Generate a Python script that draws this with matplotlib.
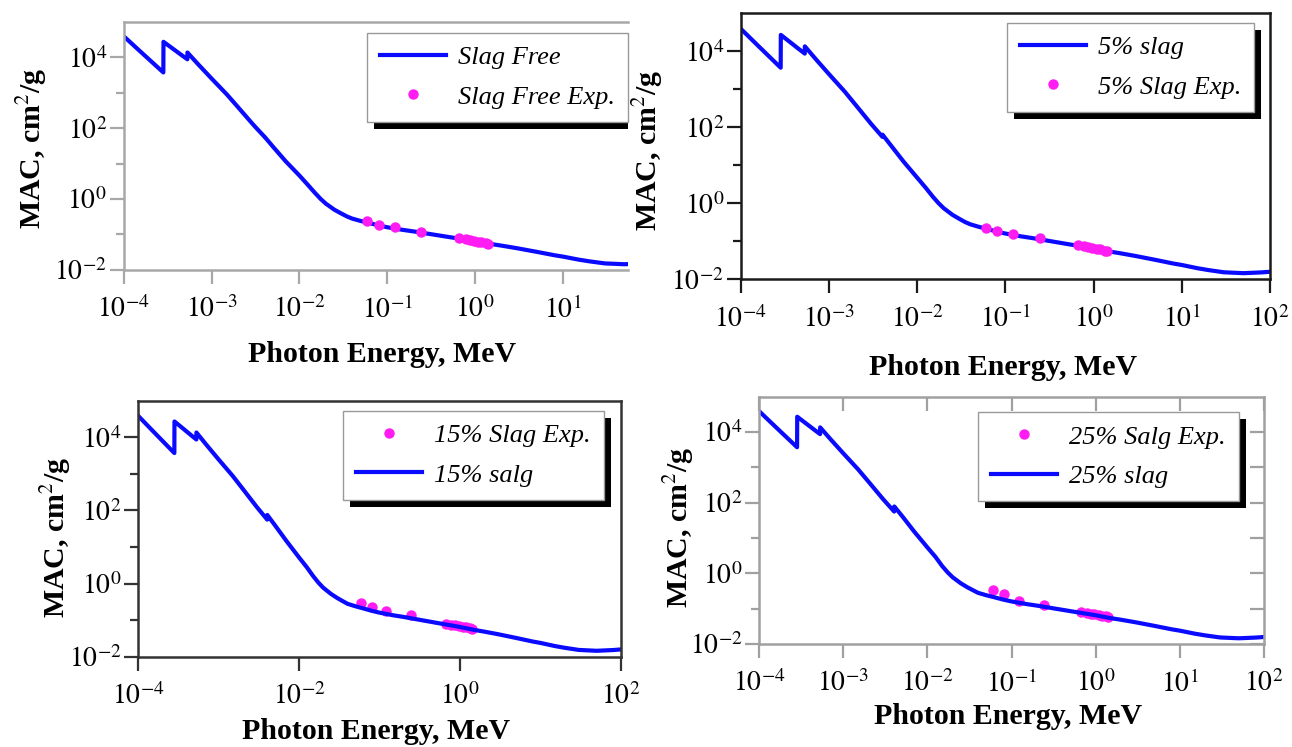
import matplotlib
matplotlib.use('Agg')
import matplotlib.pyplot as plt
from matplotlib.patches import Rectangle
from matplotlib.transforms import IdentityTransform
from matplotlib.ticker import NullFormatter

plt.rcParams['font.family'] = ['Liberation Serif', 'DejaVu Serif']
plt.rcParams['mathtext.fontset'] = 'stix'

# photon energy (MeV) and mass attenuation coefficient (cm2/g)
energy = [1.0e-4, 1.5e-4, 2.0e-4, 2.83e-4, 2.84e-4, 3.5e-4, 4.5e-4, 5.31e-4, 5.32e-4, 7.0e-4,
          1.0e-3, 1.5e-3, 2.0e-3, 3.0e-3, 4.03e-3, 4.04e-3, 5.0e-3, 7.0e-3, 1.0e-2, 1.25e-2,
          1.5e-2, 1.75e-2, 2.0e-2, 2.5e-2, 3.0e-2, 3.5e-2, 4.0e-2, 5.0e-2, 6.0e-2, 8.0e-2,
          0.1, 0.15, 0.2, 0.3, 0.5, 0.8, 1.0, 1.5, 2.0, 3.0,
          5.0, 8.0, 10.0, 15.0, 20.0, 30.0, 50.0, 80.0, 100.0]
mac_free = [3.9e4, 1.55e4, 8.1e3, 3.7e3, 2.7e4, 1.85e4, 1.17e4, 8.7e3, 1.35e4, 6.4e3,
            2.5e3, 880, 390, 123, 56, 56, 30, 11.5, 4.6, 2.5,
            1.5, 1.0, 0.74, 0.5, 0.39, 0.32, 0.28, 0.24, 0.215, 0.18,
            0.16, 0.135, 0.122, 0.104, 0.085, 0.071, 0.065, 0.054, 0.0485, 0.041,
            0.0325, 0.026, 0.0238, 0.0196, 0.0175, 0.0153, 0.0145, 0.0152, 0.0158]
mac_5 = [3.9e4, 1.55e4, 8.1e3, 3.7e3, 2.7e4, 1.85e4, 1.17e4, 8.7e3, 1.35e4, 6.4e3,
         2.5e3, 880, 390, 123, 56, 64, 34, 12.5, 4.7, 2.55,
         1.5, 1.0, 0.74, 0.5, 0.39, 0.32, 0.28, 0.24, 0.215, 0.18,
         0.16, 0.135, 0.122, 0.104, 0.085, 0.071, 0.065, 0.054, 0.0485, 0.041,
         0.0325, 0.026, 0.0238, 0.0196, 0.0175, 0.0153, 0.0145, 0.0152, 0.0158]
mac_15 = [3.9e4, 1.55e4, 8.1e3, 3.7e3, 2.7e4, 1.85e4, 1.17e4, 8.7e3, 1.35e4, 6.4e3,
          2.5e3, 880, 390, 123, 56, 75, 40, 14.5, 5.2, 2.8,
          1.6, 1.05, 0.77, 0.52, 0.4, 0.33, 0.28, 0.24, 0.215, 0.18,
          0.16, 0.135, 0.122, 0.104, 0.085, 0.071, 0.065, 0.054, 0.0485, 0.041,
          0.0325, 0.026, 0.0238, 0.0196, 0.0175, 0.0153, 0.0145, 0.0152, 0.0158]
mac_25 = [3.9e4, 1.55e4, 8.1e3, 3.7e3, 2.7e4, 1.85e4, 1.17e4, 8.7e3, 1.35e4, 6.4e3,
          2.5e3, 880, 390, 123, 56, 78, 42, 15.0, 5.4, 2.9,
          1.6, 1.05, 0.77, 0.52, 0.4, 0.33, 0.28, 0.24, 0.215, 0.18,
          0.16, 0.135, 0.122, 0.104, 0.085, 0.071, 0.065, 0.054, 0.0485, 0.041,
          0.0325, 0.026, 0.0238, 0.0196, 0.0175, 0.0153, 0.0145, 0.0152, 0.0158]

exp_energy = [0.0595, 0.081, 0.122, 0.245, 0.662, 0.779, 0.867, 0.964, 1.086, 1.173, 1.332, 1.408]
exp_free = [0.24, 0.19, 0.16, 0.12, 0.078, 0.073, 0.070, 0.067, 0.063, 0.060, 0.056, 0.054]
exp_5 = [0.22, 0.19, 0.155, 0.12, 0.079, 0.074, 0.071, 0.068, 0.064, 0.061, 0.057, 0.055]
exp_15 = [0.30, 0.23, 0.175, 0.14, 0.078, 0.075, 0.072, 0.069, 0.066, 0.063, 0.060, 0.057]
exp_25 = [0.34, 0.26, 0.17, 0.13, 0.078, 0.075, 0.072, 0.070, 0.067, 0.064, 0.060, 0.057]

line_labels = ['Slag Free', '5% slag', '15% salg', '25% slag']
exp_labels = ['Slag Free Exp.', '5% Slag Exp.', '15% Slag Exp.', '25% Salg Exp.']

xticks_all = [1e-4, 1e-3, 1e-2, 1e-1, 1e0, 1e1, 1e2]
xlabels_all = ['$10^{-4}$', '$10^{-3}$', '$10^{-2}$', '$10^{-1}$', '$10^{0}$', '$10^{1}$', '$10^{2}$']
xticks_even = [1e-4, 1e-2, 1e0, 1e2]
xlabels_even = ['$10^{-4}$', '$10^{-2}$', '$10^{0}$', '$10^{2}$']
yticks = [1e-2, 1e0, 1e2, 1e4]
ylabels = ['$10^{-2}$', '$10^{0}$', '$10^{2}$', '$10^{4}$']
yminor = [1e-1, 1e1, 1e3]

fig = plt.figure(figsize=(12.92, 7.47), dpi=100)

panels = [
    dict(rect=[0.0957, 0.6386, 0.3904, 0.3324], mac=mac_free, exp=exp_free, dots_first=False,
         xt=xticks_all[:-1], xtl=xlabels_all[:-1], xmax=55, edge='#a8a8a8',
         anchor=(1.0, 0.956), ylab=(-0.182, 0.491), xlab=(0.512, -0.342)),
    dict(rect=[0.5734, 0.6261, 0.4096, 0.3561], mac=mac_5, exp=exp_5, dots_first=False,
         xt=xticks_all, xtl=xlabels_all, xmax=100, edge='#1a1a1a',
         anchor=(0.970, 0.965), ylab=(-0.175, 0.486), xlab=(0.495, -0.330)),
    dict(rect=[0.1068, 0.1209, 0.3738, 0.3427], mac=mac_15, exp=exp_15, dots_first=True,
         xt=xticks_even, xtl=xlabels_even, xmax=100, edge='#333333',
         anchor=(0.964, 0.961), ylab=(-0.170, 0.468), xlab=(0.493, -0.292)),
    dict(rect=[0.5875, 0.1379, 0.3909, 0.3311], mac=mac_25, exp=exp_25, dots_first=True,
         xt=xticks_all, xtl=xlabels_all, xmax=100, edge='#a0a0a0',
         anchor=(0.950, 0.938), ylab=(-0.158, 0.473), xlab=(0.493, -0.295)),
]

axes = []
legends = []
for i, p in enumerate(panels):
    ax = fig.add_axes(p['rect'])
    ax.set_xscale('log')
    ax.set_yscale('log')
    if p['dots_first']:
        ax.plot(exp_energy, p['exp'], 'o', color='#ff1cf2', ms=7.5, mec='none', label=exp_labels[i])
        ax.plot(energy, p['mac'], color='#0a0aff', lw=3, label=line_labels[i])
    else:
        ax.plot(energy, p['mac'], color='#0a0aff', lw=3, label=line_labels[i])
        ax.plot(exp_energy, p['exp'], 'o', color='#ff1cf2', ms=7.5, mec='none', label=exp_labels[i])

    ax.set_xticks(p['xt'])
    ax.set_xticklabels(p['xtl'])
    ax.set_xticks([], minor=True)
    ax.set_yticks(yticks)
    ax.set_yticklabels(ylabels)
    ax.set_yticks(yminor, minor=True)
    ax.yaxis.set_minor_formatter(NullFormatter())
    ax.set_xlim(1e-4, p['xmax'])
    ax.set_ylim(1e-2, 1e5)

    ax.tick_params(which='both', direction='out', color=p['edge'], width=1.6, labelsize=20)
    ax.tick_params(which='major', length=10)
    ax.tick_params(which='minor', length=6)
    ax.tick_params(axis='x', pad=9)
    ax.tick_params(axis='y', pad=2)
    for s in ax.spines.values():
        s.set_color(p['edge'])
        s.set_linewidth(1.8)
    if i == 0:
        ax.spines['right'].set_visible(False)

    ax.set_ylabel('MAC, cm$^2$/g', fontsize=21.5, fontweight='bold', va='center')
    ax.yaxis.set_label_coords(*p['ylab'])
    ax.set_xlabel('Photon Energy, MeV', fontsize=21.5, fontweight='bold', va='center')
    ax.xaxis.set_label_coords(*p['xlab'])

    leg = ax.legend(loc='upper right', bbox_to_anchor=p['anchor'], borderaxespad=0,
                    prop={'family': 'Liberation Serif', 'style': 'italic', 'size': 19},
                    fancybox=False, framealpha=1, edgecolor='#999999',
                    handlelength=2.5, handletextpad=0.45, borderpad=0.5, labelspacing=0.6)
    leg.get_frame().set_linewidth(1.0)
    axes.append(ax)
    legends.append(leg)

# inward ticks on top and right of the last panel
ov = fig.add_axes(panels[3]['rect'], sharex=axes[3], sharey=axes[3])
ov.patch.set_visible(False)
for s in ov.spines.values():
    s.set_visible(False)
ov.tick_params(which='both', direction='in', bottom=False, left=False, top=True, right=True,
               labelbottom=False, labelleft=False, color=panels[3]['edge'], width=1.6, length=10)

fig.canvas.draw()
renderer = fig.canvas.get_renderer()
for ax, leg in zip(axes, legends):
    bb = leg.get_window_extent(renderer)
    shadow = Rectangle((bb.x0 + 7, bb.y0 - 7), bb.width, bb.height, transform=IdentityTransform(),
                       facecolor='black', edgecolor='none', zorder=leg.get_zorder() - 0.1)
    ax.add_artist(shadow)

fig.savefig('out.png', dpi=100)
